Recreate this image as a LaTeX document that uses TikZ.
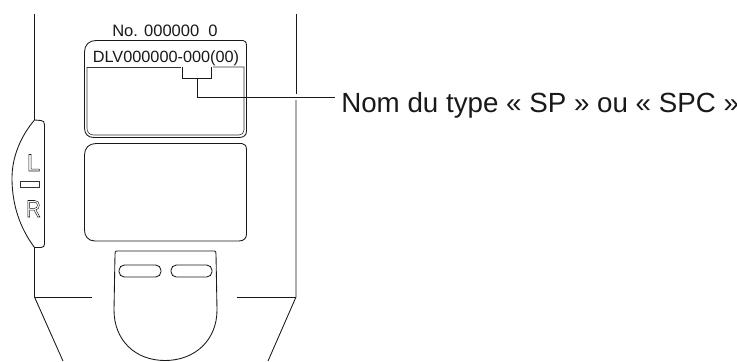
\documentclass[tikz,border=0pt]{standalone}
\usepackage{fontspec}
\setmainfont{Liberation Sans}
\newcommand{\outl}[1]{\special{pdf:code 1 Tr 0.4 w}#1\special{pdf:code 0 Tr}}
\tikzset{
 ln/.style={draw=black!90,line width=0.65pt},
 thin ln/.style={draw=black!80,line width=0.45pt},
 lbl/.style={inner sep=0pt,anchor=base,text=black!90},
}
\begin{document}
\begin{tikzpicture}[x=0.75pt,y=-0.75pt]
% 1 px = 0.75pt
\useasboundingbox (0,0) rectangle (737,361);
% body
\draw[ln] (34.5,14) -- (34.5,120);
\draw[ln] (34.5,247) -- (34.5,297) -- (63,361);
\draw[ln] (296,14) -- (296,94);
\draw[ln] (296,100) -- (296,297) -- (268,361);
\draw[ln] (34.5,297) -- (91.5,297);
\draw[ln] (237,297) -- (296,297);
% side tab
\draw[ln] (34.5,120) .. controls (20,137) and (12,158) .. (12,178)
 .. controls (12,205) and (20,228) .. (34.5,247.5) -- (41,247.5)
 .. controls (43.5,247.5) and (44.5,246) .. (44.5,244) -- (44.5,125)
 .. controls (44.5,122) and (43.5,120.5) .. (41,120.5) -- (34.5,120);
\node[lbl,font=\fontsize{18}{18}\selectfont] (L) at (33.5,171) {\outl{L}};
\node[draw=black!80,line width=0.4pt,minimum width=14pt,minimum height=4.3pt,inner sep=0pt] (bar) at (29.5,184) {};
\node[lbl,font=\fontsize{18}{18}\selectfont,xscale=0.85] (R) at (33.5,217) {\outl{R}};
% upper label
\node[lbl,font=\fontsize{12.4}{13}\selectfont] (no) at (165,36) {No. 000000\ \ 0};
\draw[ln] (84.5,52) -- (84.5,128) .. controls (84.5,134) and (88,137.5) .. (94,137.5)
 -- (239,137.5) .. controls (244,137.5) and (246.5,135) .. (246.5,131) -- (246.5,46)
 .. controls (246.5,42) and (245,40.5) .. (243,40.5) -- (96,40.5)
 .. controls (89,40.5) and (84.5,45) .. (84.5,52) -- cycle;
\node[lbl,font=\fontsize{12.2}{13}\selectfont] (dlv) at (166,62.7) {DLV000000-000(00)};
\draw[thin ln] (87,67) -- (181,67);
\draw[thin ln] (213,67) -- (244,67) -- (244,130) .. controls (244,133) and (242,135) .. (239,135) -- (94,135)
 .. controls (89,135) and (87,132) .. (87,128) -- (87,67);
% bracket and leader
\node[lbl,anchor=base west,font=\fontsize{20.8}{22}\selectfont] (cap) at (341,112.5) {Nom du type « SP » ou « SPC »};
\draw[ln] (182.5,67) -- (182.5,78) -- (211,78) -- (211,67);
\coordinate (br) at (197,78);
\coordinate (capend) at (335,97);
\draw[ln] (br) -- (197,97) -- (capend);
% lower panel
\draw[ln] (84.5,155) -- (84.5,230) .. controls (84.5,236) and (88,241) .. (95,241)
 -- (239,241) .. controls (244,241) and (246.5,238) .. (246.5,234) -- (246.5,150)
 .. controls (246.5,146) and (245,143.5) .. (242,143.5) -- (96,143.5)
 .. controls (89,143.5) and (84.5,148) .. (84.5,155) -- cycle;
% tongue
\draw[ln] (116.5,251) -- (214.5,251) .. controls (215.5,251) and (216,252) .. (216,254) -- (217,310)
 .. controls (217,340) and (195,360.5) .. (165,360.5)
 .. controls (135,360.5) and (114,340) .. (114,310) -- (115,254) .. controls (115,252) and (115.5,251) .. (116.5,251) -- cycle;
\draw[ln,rounded corners=4pt] (119,265) rectangle (161,277);
\draw[ln,rounded corners=4pt] (171,265) rectangle (212,277);
\end{tikzpicture}
\end{document}
